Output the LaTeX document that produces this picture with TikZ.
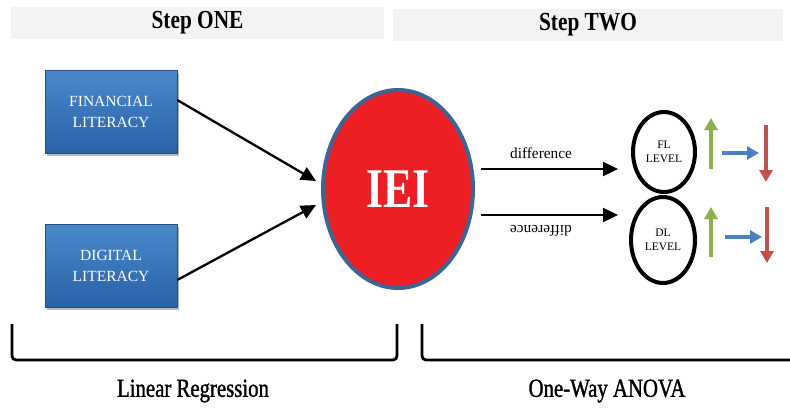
\documentclass[tikz,border=0pt]{standalone}
\usepackage{fontspec}
\setmainfont{Liberation Serif}
\newfontfamily\hdfont[FakeStretch=0.82]{Liberation Serif}
\newfontfamily\btfont[FakeStretch=0.80,FakeBold=1.2]{Liberation Serif}
\newfontfamily\ieifont[FakeStretch=0.78]{Liberation Serif}
\usetikzlibrary{arrows.meta,shapes.geometric,shadows}
\definecolor{hdgrey}{HTML}{F2F3F5}
\definecolor{boxtop}{HTML}{4A88CC}
\definecolor{boxbot}{HTML}{2A62A6}
\definecolor{ieired}{HTML}{ED1F24}
\definecolor{ieiedge}{HTML}{3D6494}
\definecolor{upgreen}{HTML}{8CB04E}
\definecolor{rtblue}{HTML}{4A80C4}
\definecolor{dnred}{HTML}{C4504C}
\tikzset{
  header/.style={fill=hdgrey, draw=none, minimum width=#1, minimum height=32pt, inner sep=0pt, font=\hdfont\bfseries\fontsize{26}{30}\selectfont},
  litbox/.style={draw=boxbot!80!black, line width=0.4pt, top color=boxtop, bottom color=boxbot, minimum width=132pt, minimum height=83pt, inner sep=0pt, align=center, text=white, font=\fontsize{15.5}{21}\selectfont, drop shadow={shadow xshift=1.5pt, shadow yshift=-3pt, opacity=0.45, fill=black!60}},
  ieinode/.style={ellipse, fill=ieired, draw=ieiedge, line width=4pt, minimum width=150pt, minimum height=198pt, inner sep=0pt, text=white, font=\ieifont\bfseries\fontsize{56}{60}\selectfont},
  levelnode/.style={ellipse, draw=black, line width=4pt, inner sep=0pt, align=center, font=\fontsize{11.5}{14}\selectfont},
  bigarrow/.style={draw=black, line width=2.3pt, -{Triangle[length=15pt,width=14pt]}},
  smallarrow/.style={line width=4.5pt, -{Triangle[length=12pt,width=13pt]}},
  bracket/.style={draw=black, line width=2.8pt, rounded corners=4pt},
  bottomlabel/.style={font=\btfont\fontsize{26}{30}\selectfont},
  difflabel/.style={font=\fontsize{15.3}{18}\selectfont}
}
\begin{document}
\begin{tikzpicture}[x=1pt,y=-1pt]
\useasboundingbox (0,0) rectangle (790,408);
% headers
\node[header=373pt] (h1) at (197.5,23) {Step ONE};
\node[header=390pt] (h2) at (588,25) {Step TWO};
% boxes
\node[litbox] (fl) at (111,111.5) {FINANCIAL\\LITERACY};
\node[litbox] (dl) at (111,265.5) {DIGITAL\\LITERACY};
% IEI
\node[ieinode] (iei) at (398,189) {IEI};
% arrows into IEI
\coordinate (t1) at (316,181);
\coordinate (t2) at (316,205);
\draw[bigarrow] (fl.east |- 0,100) -- (t1);
\draw[bigarrow] (dl.east |- 0,280) -- (t2);
% level ellipses
\node[levelnode, minimum width=62pt, minimum height=80pt] (fll) at (664,152) {FL\\LEVEL};
\node[levelnode, minimum width=64pt, minimum height=86pt] (dll) at (663,240) {DL\\LEVEL};
% difference arrows
\coordinate (s1) at (481,169);
\coordinate (e1) at (618,169);
\coordinate (s2) at (481,215);
\coordinate (e2) at (618,215);
\draw[bigarrow] (s1) -- (e1);
\draw[bigarrow] (s2) -- (e2);
\node[difflabel] (d1) at (541,153) {difference};
\node[difflabel, rotate=180] (d2) at (541,231) {difference};
% small arrows
\coordinate (g1a) at (711,169); \coordinate (g1b) at (711,118);
\coordinate (b1a) at (722,153); \coordinate (b1b) at (759,153);
\coordinate (r1a) at (766,125); \coordinate (r1b) at (766,182);
\coordinate (g2a) at (711,257); \coordinate (g2b) at (711,207);
\coordinate (b2a) at (725,237); \coordinate (b2b) at (762,237);
\coordinate (r2a) at (767,207); \coordinate (r2b) at (767,263);
\draw[smallarrow, upgreen] (g1a) -- (g1b);
\draw[smallarrow, rtblue] (b1a) -- (b1b);
\draw[smallarrow, dnred] (r1a) -- (r1b);
\draw[smallarrow, upgreen] (g2a) -- (g2b);
\draw[smallarrow, rtblue] (b2a) -- (b2b);
\draw[smallarrow, dnred] (r2a) -- (r2b);
% brackets
\coordinate (lb1) at (12,324); \coordinate (lb2) at (12,360);
\coordinate (lb3) at (397,360); \coordinate (lb4) at (397,324);
\draw[bracket] (lb1) -- (lb2) -- (lb3) -- (lb4);
\coordinate (rb1) at (422,324); \coordinate (rb2) at (422,360);
\coordinate (rb3) at (795,360);
\draw[bracket] (rb1) -- (rb2) -- (rb3);
% bottom labels
\node[bottomlabel] (lr) at (193,391) {Linear Regression};
\node[bottomlabel] (ow) at (607,391) {One-Way ANOVA};
\end{tikzpicture}
\end{document}
